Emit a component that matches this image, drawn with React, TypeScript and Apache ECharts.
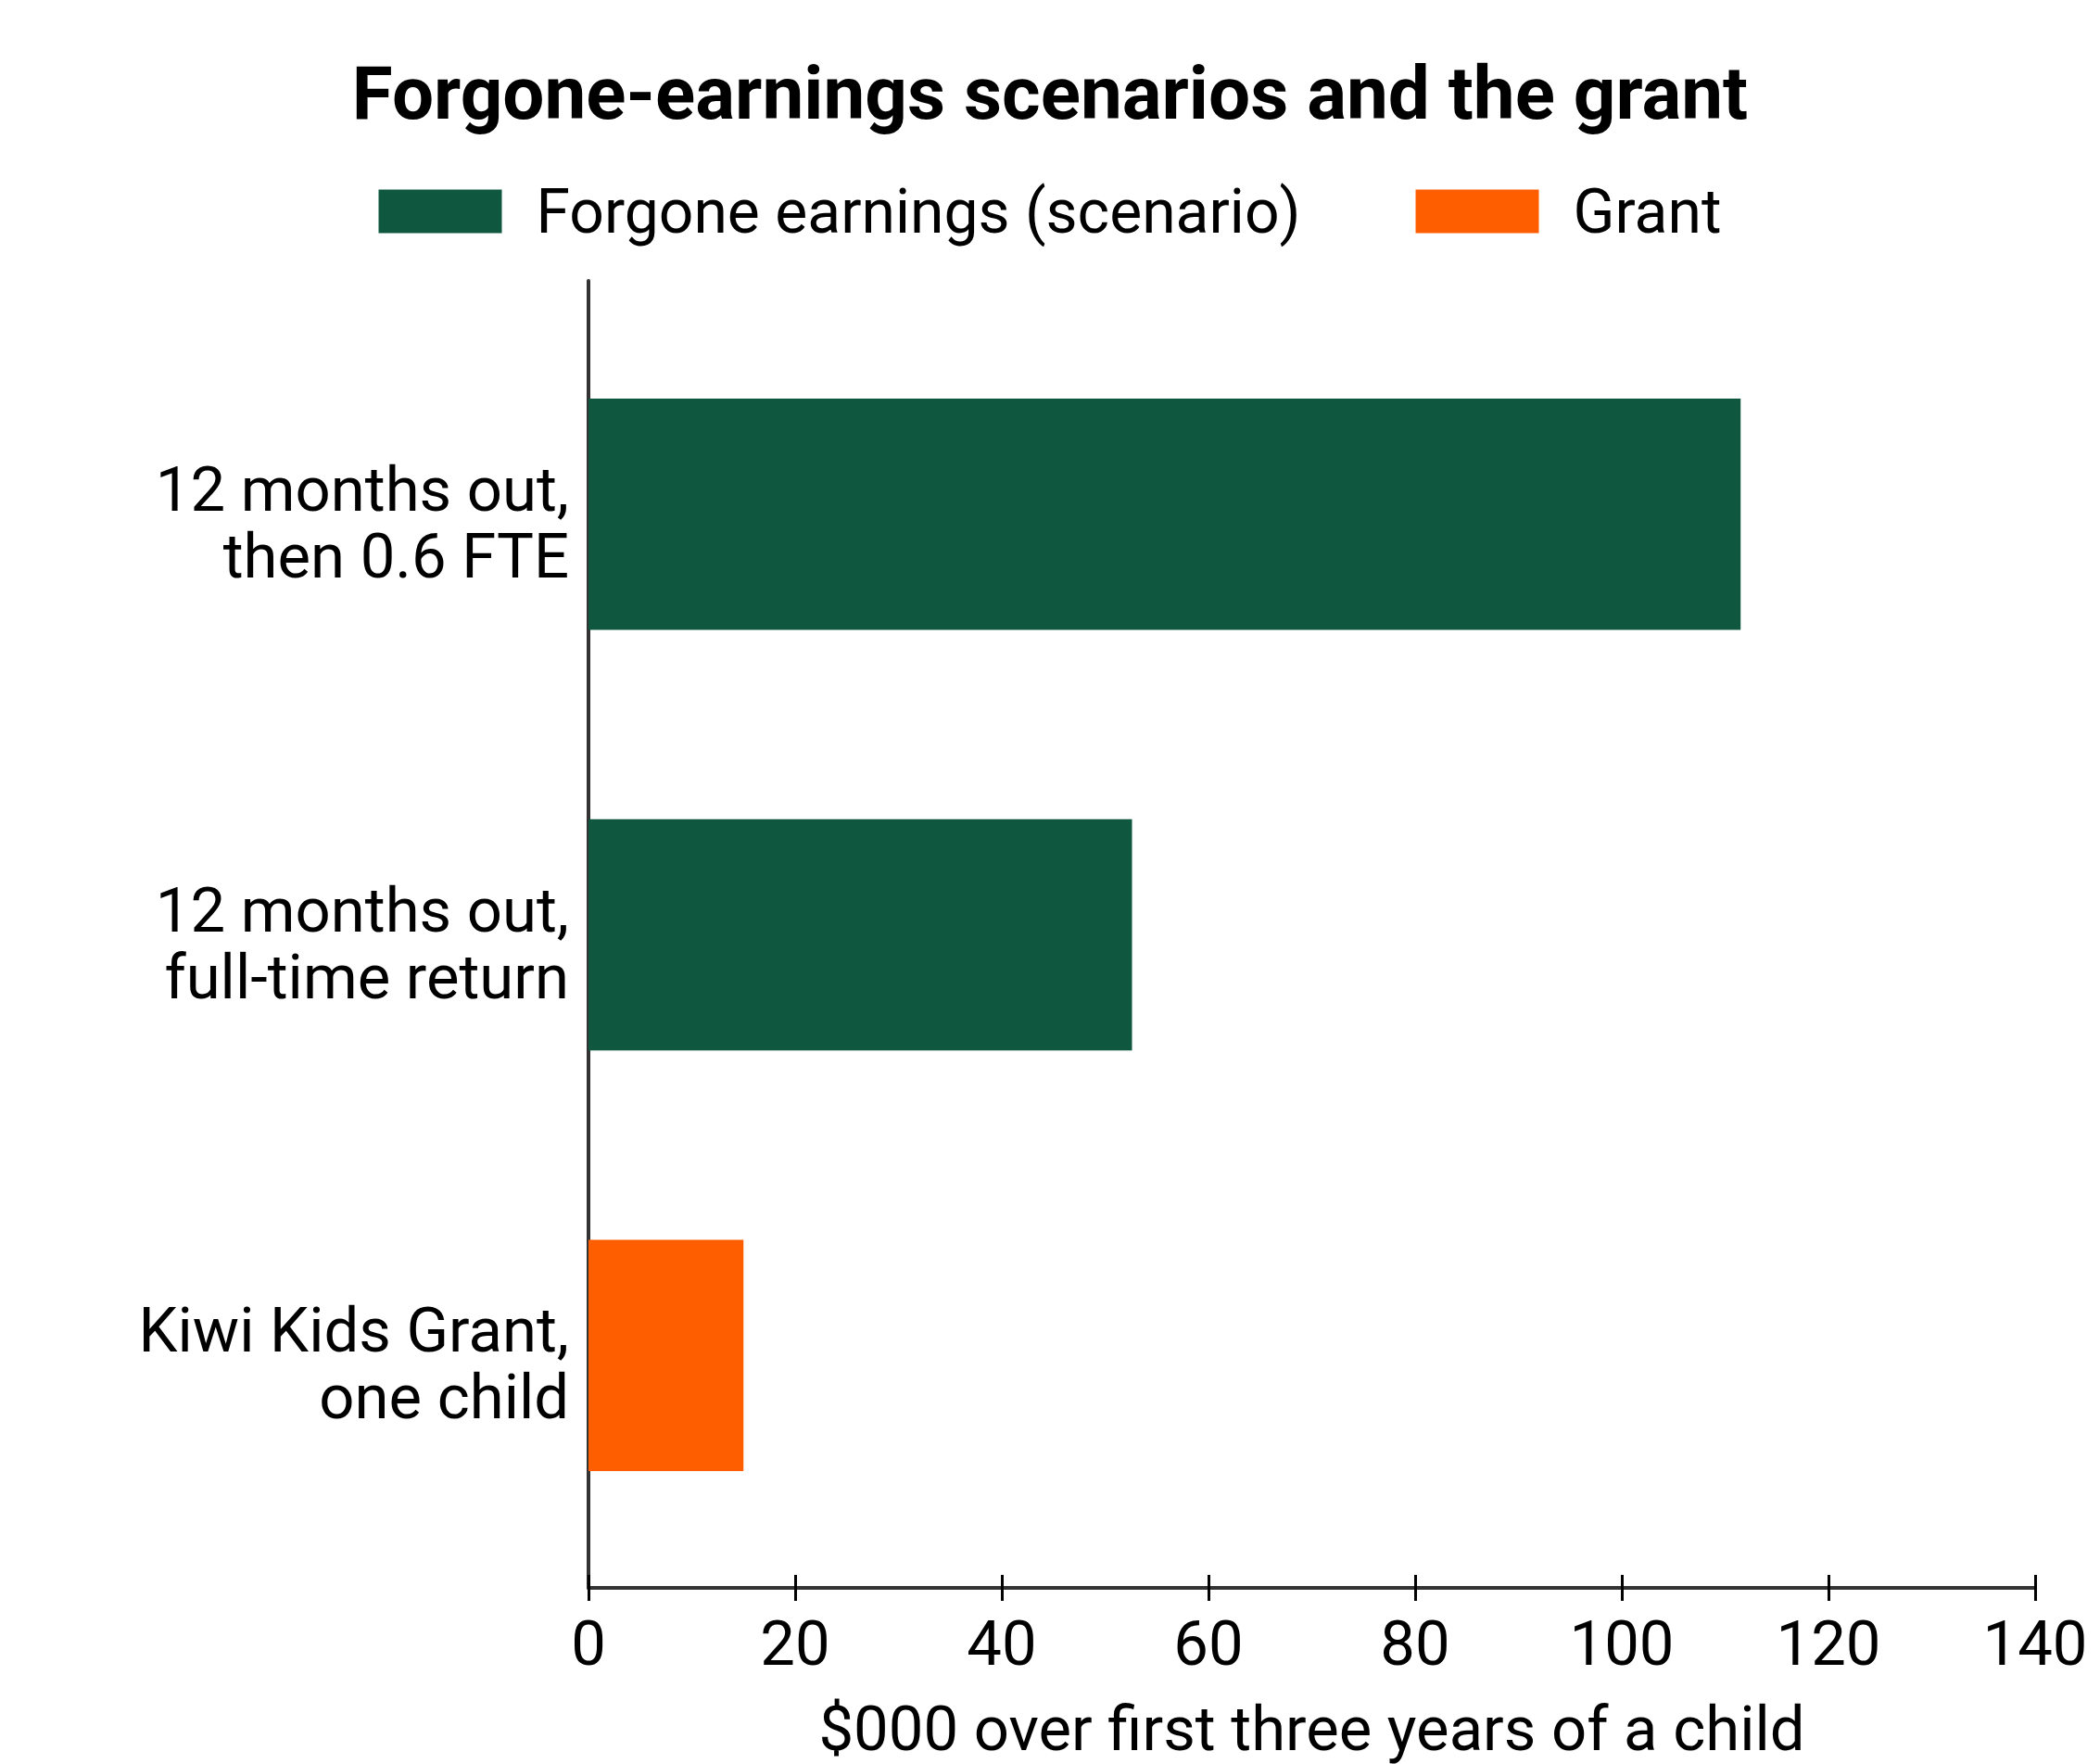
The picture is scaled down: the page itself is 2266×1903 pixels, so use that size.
import React, { useEffect, useRef } from "react";
import * as echarts from "echarts";

const categories = [
  "12 months out,\nthen 0.6 FTE",
  "12 months out,\nfull-time return",
  "Kiwi Kids Grant,\none child",
];
const forgoneValues = [111.5, 52.6, null];
const grantValues = [null, null, 15];
const seriesNames = ["Forgone earnings (scenario)", "Grant"];
const xTicks = { min: 0, max: 140, interval: 20 };

const FONT = "Roboto";
const GREEN = "#105740";
const ORANGE = "#FF5E00";
const AXIS = "#333333";

export default function App() {
  const ref = useRef<HTMLDivElement>(null);
  useEffect(() => {
    document.body.style.margin = "0";
    if (!ref.current) return;
    const chart = echarts.init(ref.current, null, { renderer: "svg" });
    chart.setOption({
      animation: false,
      backgroundColor: "#ffffff",
      textStyle: { fontFamily: FONT },
      title: {
        text: "Forgone-earnings scenarios and the grant",
        left: "center",
        top: 56,
        textStyle: { fontFamily: FONT, fontSize: 80, fontWeight: "bold", color: "#000", lineHeight: 80 },
      },
      legend: {
        data: seriesNames,
        left: "center",
        top: 183,
        itemWidth: 133,
        itemHeight: 47,
        itemGap: 124,
        icon: "rect",
        textStyle: { fontFamily: FONT, fontSize: 66, color: "#000", lineHeight: 80, padding: [0, 0, 0, 32] },
      },
      grid: [
        { left: 635, right: 70, top: 328, bottom: 214 },
        { left: 635, right: 70, top: 303, bottom: 190 },
        { left: 635, right: 70, top: 337, bottom: 205 },
      ],
      xAxis: [
        {
          gridIndex: 0,
          type: "value",
          min: xTicks.min,
          max: xTicks.max,
          interval: xTicks.interval,
          show: false,
        },
        {
          gridIndex: 1,
          type: "value",
          position: "bottom",
          min: xTicks.min,
          max: xTicks.max,
          interval: xTicks.interval,
          axisLine: { show: true, lineStyle: { color: AXIS, width: 4 } },
          axisTick: { show: true, inside: false, length: 14, lineStyle: { color: "#000", width: 3 } },
          axisLabel: { show: true, margin: 26, fontFamily: FONT, fontSize: 67, color: "#000" },
          splitLine: { show: false },
          name: "$000 over first three years of a child",
          nameLocation: "middle",
          nameGap: 118,
          nameTextStyle: { fontFamily: FONT, fontSize: 67, color: "#000" },
        },
        {
          gridIndex: 1,
          type: "value",
          position: "bottom",
          offset: 0,
          min: xTicks.min,
          max: xTicks.max,
          interval: xTicks.interval,
          axisLine: { show: false },
          axisTick: { show: true, inside: true, length: 14, lineStyle: { color: "#000", width: 3 } },
          axisLabel: { show: false },
          splitLine: { show: false },
        },
        {
          gridIndex: 2,
          type: "value",
          min: xTicks.min,
          max: xTicks.max,
          interval: xTicks.interval,
          show: false,
        },
      ],
      yAxis: [
        {
          gridIndex: 0,
          type: "category",
          data: categories,
          inverse: true,
          axisLine: { show: false },
          axisTick: { show: false },
          axisLabel: { show: false },
        },
        {
          gridIndex: 1,
          type: "value",
          min: 0,
          max: 1,
          axisLine: { show: true, onZero: false, lineStyle: { color: AXIS, width: 4 } },
          axisTick: { show: false },
          axisLabel: { show: false },
          splitLine: { show: false },
        },
        {
          gridIndex: 2,
          type: "category",
          data: categories,
          inverse: true,
          axisLine: { show: false },
          axisTick: { show: false },
          splitLine: { show: false },
          axisLabel: {
            margin: 21,
            fontFamily: FONT,
            fontSize: 67,
            lineHeight: 72,
            color: "#000",
            align: "right",
          },
        },
      ],
      series: [
        {
          name: seriesNames[0],
          type: "bar",
          xAxisIndex: 0,
          yAxisIndex: 0,
          data: forgoneValues,
          barWidth: "55%",
          barGap: "-100%",
          itemStyle: { color: GREEN },
        },
        {
          name: seriesNames[1],
          type: "bar",
          xAxisIndex: 0,
          yAxisIndex: 0,
          data: grantValues,
          barWidth: "55%",
          barGap: "-100%",
          itemStyle: { color: ORANGE },
        },
      ],
    });
    return () => chart.dispose();
  }, []);
  return (
    <div
      ref={ref}
      style={{ position: "absolute", left: 0, top: 0, width: 2266, height: 1903 }}
    />
  );
}
